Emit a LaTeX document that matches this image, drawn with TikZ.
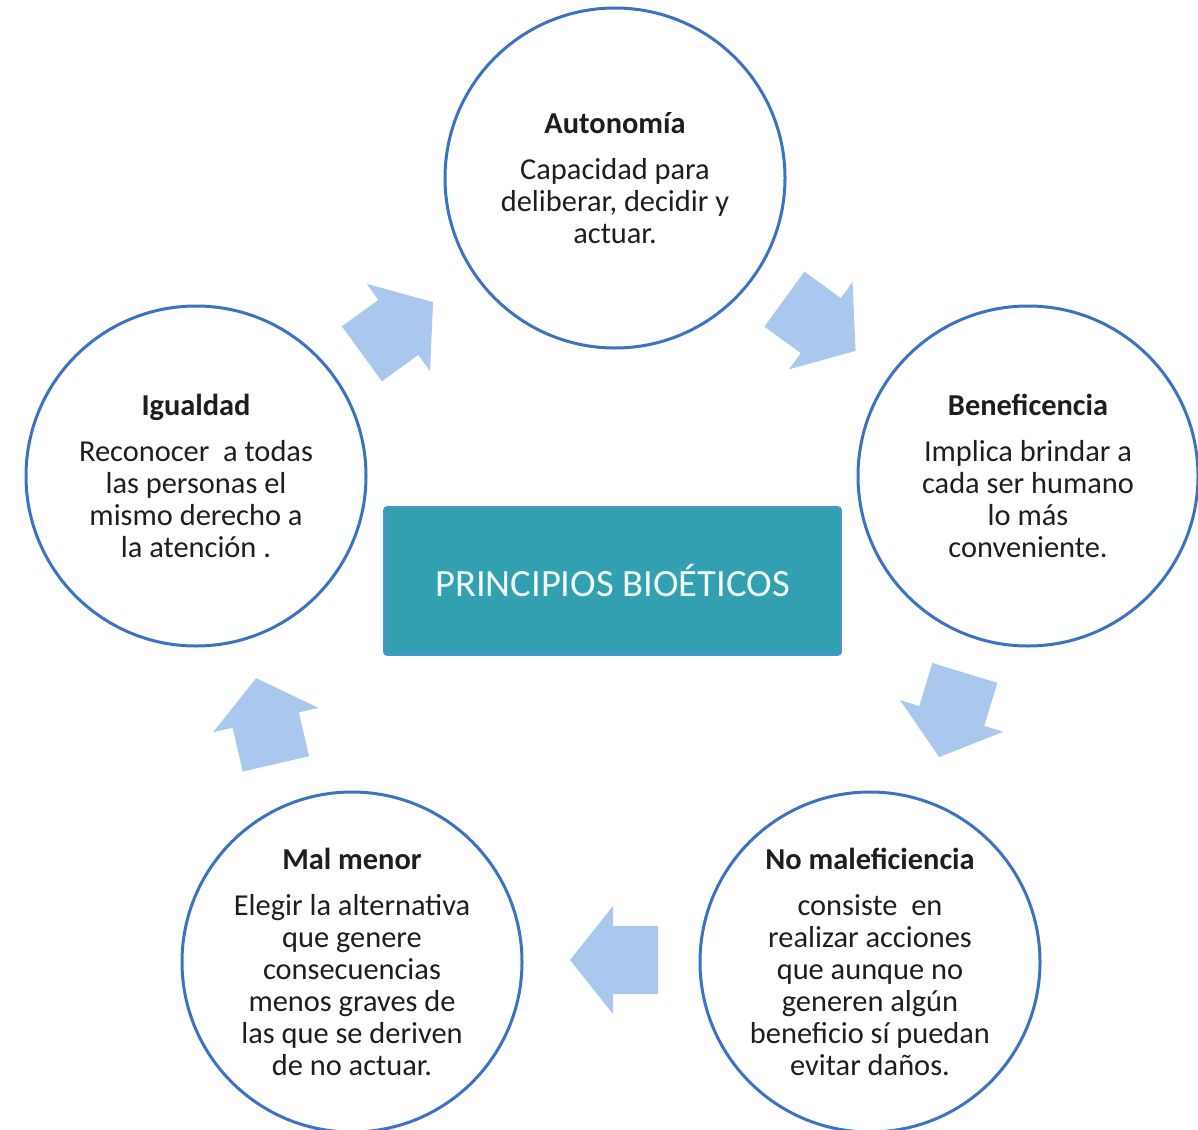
\documentclass[tikz,border=0pt]{standalone}
\usepackage{fontspec}
\setmainfont{Carlito}
\definecolor{ringblue}{RGB}{60,114,194}
\definecolor{arrowblue}{RGB}{170,200,238}
\definecolor{boxteal}{RGB}{50,160,177}
\definecolor{boxedge}{RGB}{76,146,214}
\definecolor{textgray}{RGB}{30,30,30}
\tikzset{
  principle/.style={circle, draw=ringblue, line width=1.5pt, minimum size=170pt,
    inner sep=0pt, align=center, text=textgray, font=\fontsize{15.2}{16}\selectfont},
  titlebox/.style={rectangle, rounded corners=1.5pt, fill=boxteal, draw=boxedge,
    line width=0.8pt, minimum width=228.5pt, minimum height=74pt,
    text={rgb,255:red,240;green,250;blue,250}, font=\fontsize{19.3}{22}\selectfont},
  blockarrow/.pic={\fill[arrowblue] (-44,-34) -- (1,-34) -- (1,-54) -- (44,0)
    -- (1,54) -- (1,34) -- (-44,34) -- cycle;}
}
\begin{document}
\begin{tikzpicture}[x=0.5pt,y=-0.5pt]
\useasboundingbox (0,0) rectangle (1198,1129);
\clip (0,0) rectangle (1198,1129);
\fill[white] (0,0) rectangle (1198,1129);

\node[principle] (aut) at (615,178)
  {\textbf{Autonomía}\\[7pt]Capacidad para\\deliberar, decidir y\\actuar.};
\node[principle] (ben) at (1028,476)
  {\textbf{Beneficencia}\\[7pt]Implica brindar a\\cada ser humano\\lo más\\conveniente.};
\node[principle] (igu) at (196,476)
  {\textbf{Igualdad}\\[7pt]Reconocer~ a todas\\las personas el\\mismo derecho a\\la atención .};
\node[principle] (mal) at (352,962)
  {\textbf{Mal menor}\\[7pt]Elegir la alternativa\\que genere\\consecuencias\\menos graves de\\las que se deriven\\de no actuar.};
\node[principle] (nom) at (870,962)
  {\textbf{No maleficiencia}\\[7pt]consiste~ en\\realizar acciones\\que aunque no\\generen algún\\beneficio sí puedan\\evitar daños.};

\node[titlebox] (pb) at (612.5,581) {PRINCIPIOS BIOÉTICOS};

\pic[rotate=36] (a1) at (397.5,328) {blockarrow};
\pic[rotate=-36] (a2) at (820,325) {blockarrow};
\pic[rotate=-107] (a3) at (952,715) {blockarrow};
\pic[rotate=180] (a4) at (614,960) {blockarrow};
\pic[rotate=103] (a5) at (266,721) {blockarrow};
\end{tikzpicture}
\end{document}
